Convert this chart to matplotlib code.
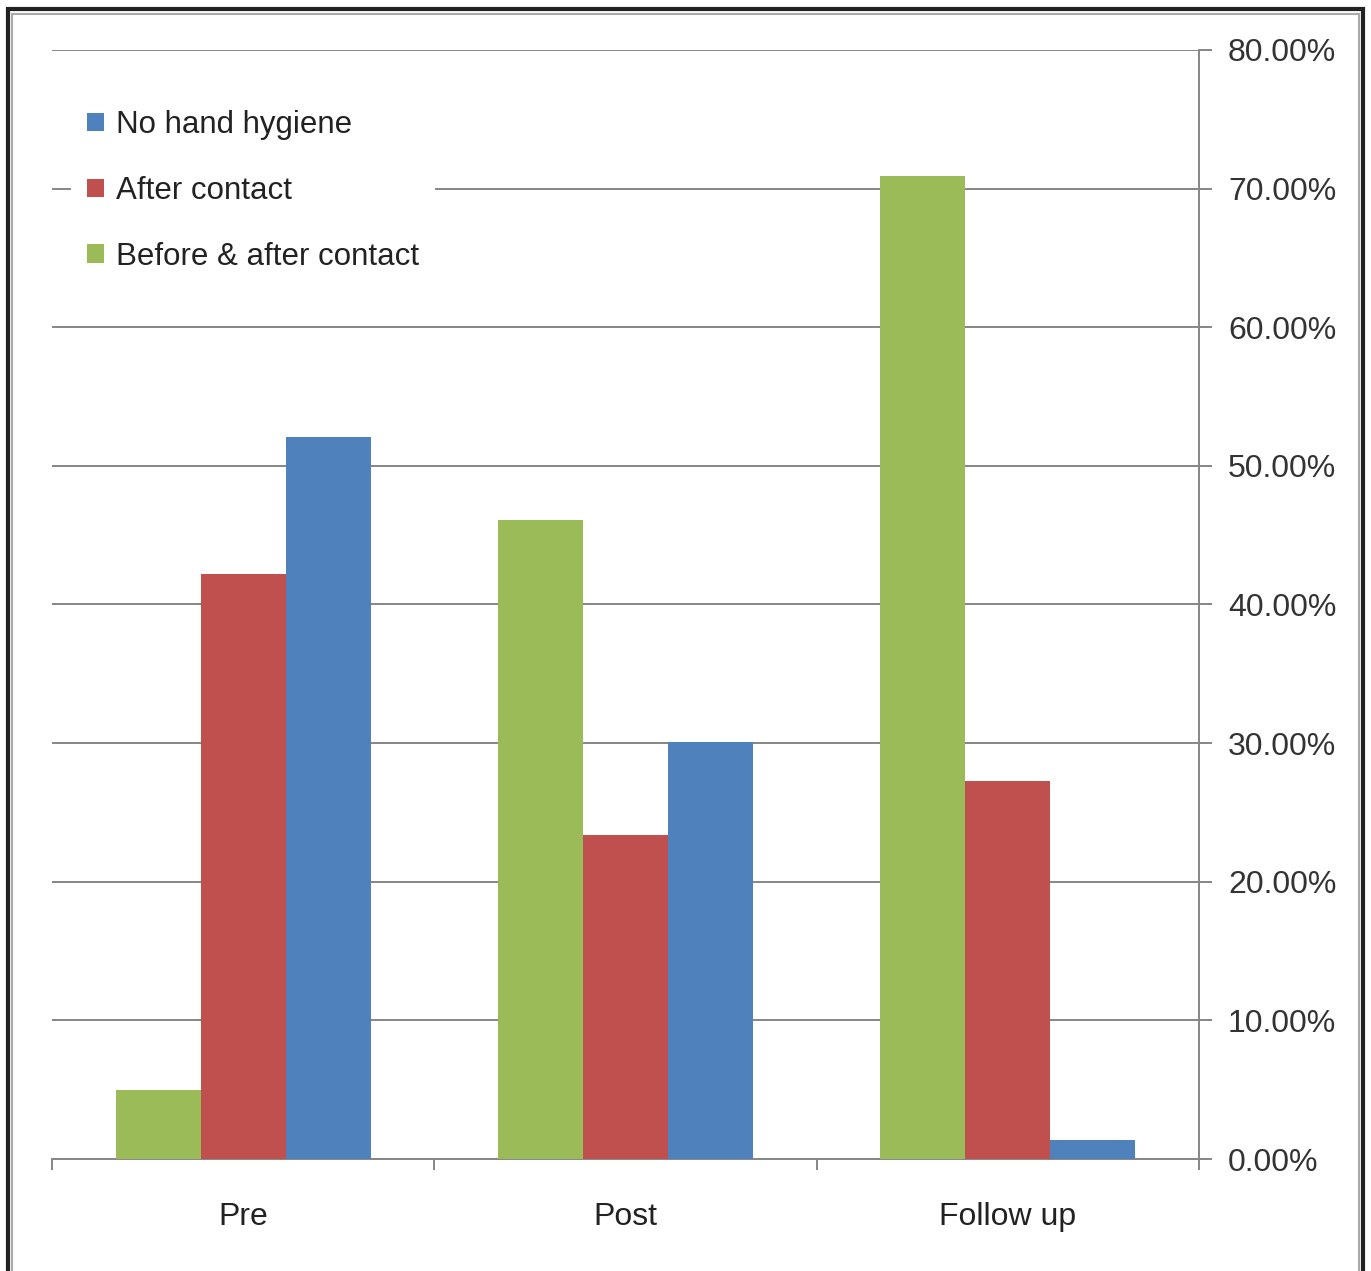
import numpy as np
import matplotlib
matplotlib.use("Agg")
from matplotlib import pyplot as plt
from matplotlib.patches import Rectangle
from matplotlib.ticker import FuncFormatter

categories = ["Pre", "Post", "Follow up"]
series_names = ["Before & after contact", "After contact", "No hand hygiene"]
before_after = [5.0, 46.1, 70.9]
after_only = [42.2, 23.4, 27.3]
no_hygiene = [52.1, 30.1, 1.4]
colors = ["#9BBB59", "#C0504D", "#4F81BD"]

plt.rcParams['font.family'] = ['Liberation Sans Narrow', 'Liberation Sans', 'DejaVu Sans']

fig = plt.figure(figsize=(13.71, 12.71), dpi=100)
ax = fig.add_axes([0.0379, 0.0881, 0.8366, 0.8726])

x = np.arange(len(categories)) + 0.5
w = 1 / 4.5
handles = []
for i, (vals, c) in enumerate(zip([before_after, after_only, no_hygiene], colors)):
    b = ax.bar(x + (i - 1) * w, vals, width=w, color=c, zorder=3, label=series_names[i])
    handles.append(b)

ax.set_xlim(0, 3)
ax.set_ylim(0, 80)
ax.set_yticks(np.arange(0, 81, 10))
ax.yaxis.set_major_formatter(FuncFormatter(lambda v, p: "%.2f%%" % v))
ax.yaxis.tick_right()
ax.grid(axis='y', color='#868686', linewidth=1.4, zorder=0)
ax.set_xticks([0, 1, 2, 3])
ax.set_xticklabels([])
ax.set_xticks(x, minor=True)
ax.set_xticklabels(categories, minor=True, fontsize=23, color='#222222')
ax.tick_params(axis='x', which='minor', length=0, pad=31)
ax.tick_params(axis='x', which='major', length=8, width=1.4, color='#868686')
ax.tick_params(axis='y', length=9, width=1.4, color='#868686', labelsize=23,
               labelcolor='#333333', pad=12)
for s in ['top', 'left']:
    ax.spines[s].set_visible(False)
for s in ['bottom', 'right']:
    ax.spines[s].set_color('#868686')
    ax.spines[s].set_linewidth(1.4)

leg = ax.legend(handles[::-1], series_names[::-1], loc='upper left',
                bbox_to_anchor=(0.003, 0.974), frameon=True, fontsize=22.5,
                handlelength=0.55, handleheight=0.55, handletextpad=0.4,
                labelspacing=1.15, borderpad=0.5)
leg.get_frame().set_edgecolor('none')
leg.get_frame().set_facecolor('white')
leg.get_frame().set_alpha(1)
for t in leg.get_texts():
    t.set_color('#222222')

fig.patches.append(Rectangle((0.006, -0.01), 0.988, 1.003, transform=fig.transFigure,
                             fill=False, edgecolor='#222222', linewidth=3))
fig.patches.append(Rectangle((0.009, -0.01), 0.982, 0.999, transform=fig.transFigure,
                             fill=False, edgecolor='#aaaaaa', linewidth=1.5))

fig.savefig("out.png", dpi=100)
